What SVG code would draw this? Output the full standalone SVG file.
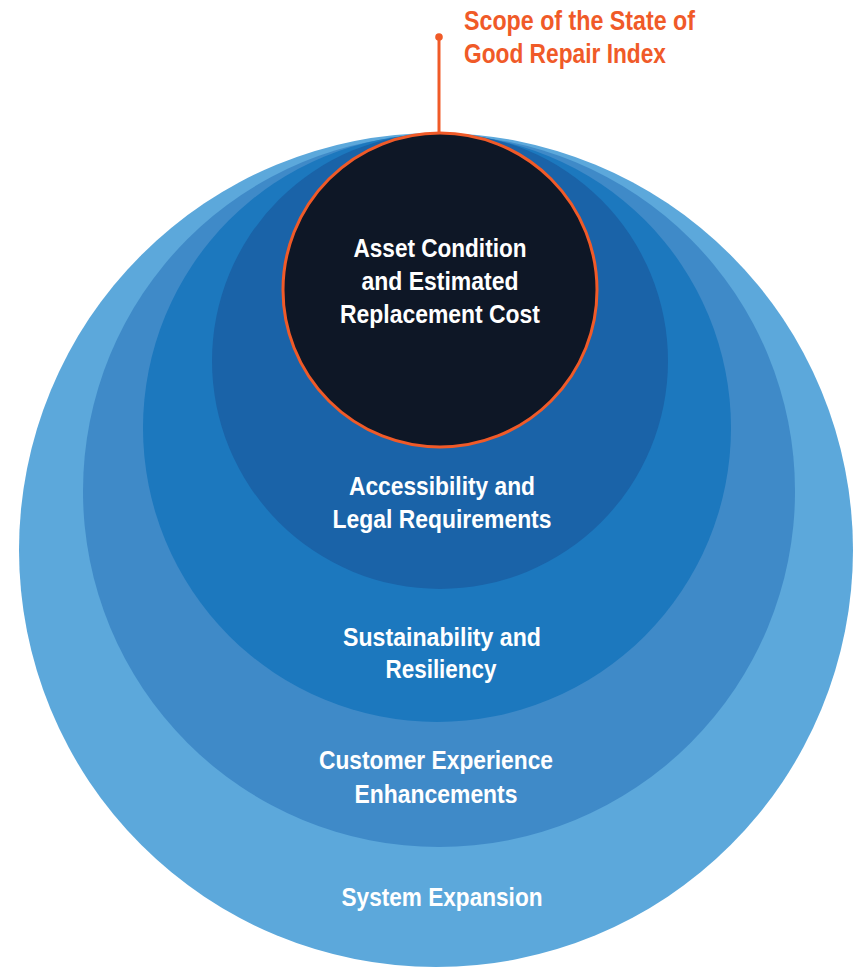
<svg xmlns="http://www.w3.org/2000/svg" width="854" height="967" viewBox="0 0 854 967">
<style>
.lbl{font-family:"Liberation Sans",Arial,sans-serif;font-weight:bold;font-size:26px;fill:#ffffff;text-anchor:middle}
.ttl{font-family:"Liberation Sans",Arial,sans-serif;font-weight:bold;font-size:27.5px;fill:#f05a28}
</style>
<rect width="854" height="967" fill="#ffffff"/>
<g id="system-expansion">
<circle cx="436" cy="550" r="417" fill="#5ca8db"/>
<text class="lbl" x="442" y="906" textLength="201" lengthAdjust="spacingAndGlyphs">System Expansion</text>
</g>
<g id="customer-experience">
<circle cx="439" cy="491" r="356" fill="#3f8ac8"/>
<text class="lbl" x="436" y="769" textLength="234" lengthAdjust="spacingAndGlyphs">Customer Experience</text>
<text class="lbl" x="436" y="803" textLength="163" lengthAdjust="spacingAndGlyphs">Enhancements</text>
</g>
<g id="sustainability">
<circle cx="437" cy="428" r="294" fill="#1c78be"/>
<text class="lbl" x="442" y="646" textLength="198" lengthAdjust="spacingAndGlyphs">Sustainability and</text>
<text class="lbl" x="441" y="678" textLength="111" lengthAdjust="spacingAndGlyphs">Resiliency</text>
</g>
<g id="accessibility">
<circle cx="440" cy="361" r="228" fill="#1a63a8"/>
<text class="lbl" x="442" y="495" textLength="186" lengthAdjust="spacingAndGlyphs">Accessibility and</text>
<text class="lbl" x="442" y="528" textLength="219" lengthAdjust="spacingAndGlyphs">Legal Requirements</text>
</g>
<g id="asset-condition">
<circle cx="440" cy="290" r="157" fill="#0e1726" stroke="#f05a28" stroke-width="3"/>
<text class="lbl" x="440" y="257" textLength="173" lengthAdjust="spacingAndGlyphs">Asset Condition</text>
<text class="lbl" x="440" y="290" textLength="157" lengthAdjust="spacingAndGlyphs">and Estimated</text>
<text class="lbl" x="440" y="323" textLength="200" lengthAdjust="spacingAndGlyphs">Replacement Cost</text>
</g>
<g id="connectors">
<line x1="439" y1="37" x2="439" y2="133" stroke="#f05a28" stroke-width="3"/>
<circle cx="439" cy="37" r="3.8" fill="#f05a28"/>
</g>
<g id="scope-label">
<text class="ttl" x="464" y="30" textLength="231" lengthAdjust="spacingAndGlyphs">Scope of the State of</text>
<text class="ttl" x="464" y="63" textLength="202" lengthAdjust="spacingAndGlyphs">Good Repair Index</text>
</g>
</svg>
